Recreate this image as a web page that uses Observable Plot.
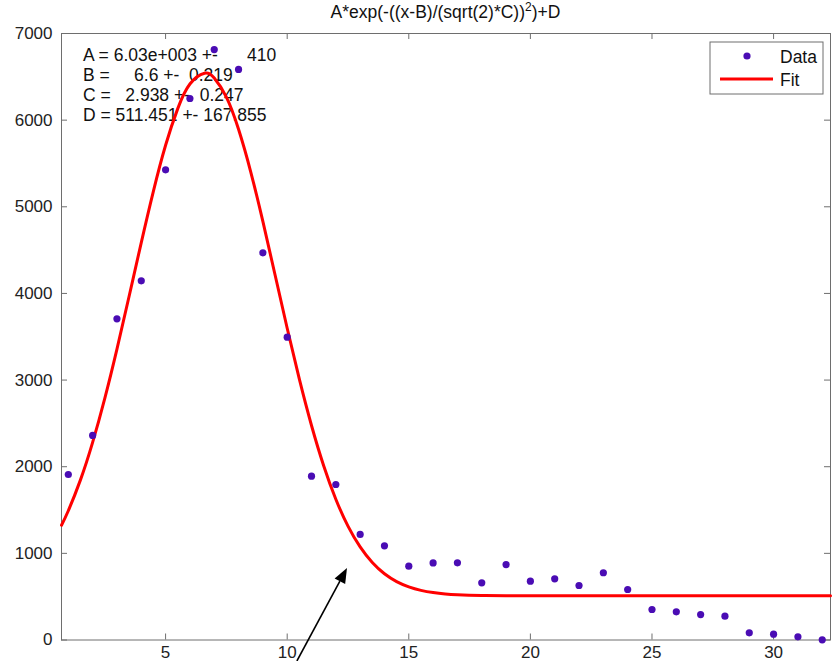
<!DOCTYPE html>
<html><head><meta charset="utf-8">
<script src="https://cdn.jsdelivr.net/npm/d3@7"></script>
<script src="https://cdn.jsdelivr.net/npm/@observablehq/plot@0.6"></script>
<style>
body{margin:0;background:#fff}
svg{display:block}
svg text{white-space:pre}
</style>
</head><body><div id="chart"></div>
<script>
// ---- data ----
const xValues = [1,2,3,4,5,6,7,8,9,10,11,12,13,14,15,16,17,18,19,20,21,22,23,24,25,26,27,28,29,30,31,32];
const yValues = [1910,2361,3707,4146,5427,6250,6815,6585,4469,3495,1891,1795,1218,1087,852,889,891,660,871,679,706,629,776,583,352,325,294,275,83,67,37,2];
const fitX = [0.72,1,1.5,2,2.5,3,3.5,4,4.5,5,5.5,6,6.6,7,7.5,8,8.5,9,9.5,10,10.5,11,11.5,12,12.5,13,13.5,14,14.5,15,15.5,16,16.5,17,18,19,20,25,32.34];
const fitY = [1325,1492,1848,2281,2789,3358,3967,4587,5182,5710,6133,6417,6541,6486,6265,5894,5404,4831,4216,3598,3010,2476,2012,1625,1314,1074,894,764,674,613,573,548,532,523,515,512,511.5,511.5,511.5];
const xTicks = [5,10,15,20,25,30];
const yTicks = [0,1000,2000,3000,4000,5000,6000,7000];
const xDomain = [0.72, 32.34];
const yDomain = [0, 7000];
const titleMain = "A*exp(-((x-B)/(sqrt(2)*C))";
const titleSup = "2";
const titleEnd = ")+D";
const fitLines = ["A = 6.03e+003 +-      410", "B =     6.6 +-  0.219", "C =   2.938 +-  0.247", "D = 511.451 +- 167.855"];
const legendLabels = ["Data", "Fit"];
const arrowFrom = [10.42, -248];
const arrowTo = [12.48, 825];

// ---- layout ----
const W = 834, H = 661, mL = 61, mR = 4, mT = 33, mB = 21.5;
const frameW = W - mL - mR, frameH = H - mT - mB;
const axisColor = "#6e6e6e";
const dotColor = "#4a0cb4";
const font = "'Liberation Sans', Arial, sans-serif";

const data = xValues.map((x, i) => ({x, y: yValues[i]}));
const fit = fitX.map((x, i) => ({x, y: fitY[i]}));

const plot = Plot.plot({
  width: W, height: H,
  marginLeft: mL, marginRight: mR, marginTop: mT, marginBottom: mB,
  style: {fontFamily: font, fontSize: "17px", color: "#222", background: "#fff", overflow: "visible"},
  x: {domain: xDomain, ticks: xTicks, tickSize: 0, tickPadding: 5.5, label: null, tickFormat: d => String(d)},
  y: {domain: yDomain, ticks: yTicks, tickSize: 0, tickPadding: 9, label: null, tickFormat: d => String(d)},
  marks: [
    Plot.frame({stroke: axisColor}),
    Plot.tickX(xTicks, {x: d => d, insetTop: frameH - 6, stroke: axisColor}),
    Plot.tickX(xTicks, {x: d => d, insetBottom: frameH - 6, stroke: axisColor}),
    Plot.tickY(yTicks, {y: d => d, insetRight: frameW - 6, stroke: axisColor}),
    Plot.tickY(yTicks, {y: d => d, insetLeft: frameW - 6, stroke: axisColor}),
    Plot.text([fitLines.join("\n")], {frameAnchor: "top-left", dx: 21.5, dy: 13.7, lineAnchor: "top", textAnchor: "start", lineHeight: 1.13, fontSize: 17.5, fill: "#111"}),
    Plot.line(fit, {x: "x", y: "y", stroke: "#ff0000", strokeWidth: 3, curve: "natural"}),
    Plot.dot(data, {x: "x", y: "y", r: 3.6, fill: dotColor, stroke: "none"})
  ]
});

document.getElementById("chart").appendChild(plot);

const svg = d3.select(plot);
const sx = plot.scale("x"), sy = plot.scale("y");
const px = v => sx.apply ? sx.apply(v) : mL + (v - xDomain[0]) / (xDomain[1] - xDomain[0]) * frameW;
const py = v => sy.apply ? sy.apply(v) : mT + frameH - (v - yDomain[0]) / (yDomain[1] - yDomain[0]) * frameH;

// title
const title = svg.append("text")
  .attr("x", mL + frameW / 2).attr("y", 18)
  .attr("text-anchor", "middle")
  .attr("font-family", font).attr("font-size", 17.5).attr("fill", "#111");
title.append("tspan").text(titleMain);
title.append("tspan").attr("font-size", 12).attr("dy", -7).text(titleSup);
title.append("tspan").attr("dy", 7).text(titleEnd);

// legend
const lg = svg.append("g").attr("font-family", font).attr("font-size", 17.5).attr("fill", "#111").attr("text-anchor", "start");
lg.append("rect").attr("x", 710).attr("y", 42).attr("width", 113).attr("height", 52)
  .attr("fill", "#fff").attr("stroke", axisColor);
lg.append("circle").attr("cx", 747).attr("cy", 56).attr("r", 3.6).attr("fill", dotColor);
lg.append("line").attr("x1", 720).attr("x2", 773).attr("y1", 79).attr("y2", 79)
  .attr("stroke", "#ff0000").attr("stroke-width", 3);
lg.append("text").attr("x", 780).attr("y", 63).attr("text-anchor", "start").text(legendLabels[0]);
lg.append("text").attr("x", 780).attr("y", 86).attr("text-anchor", "start").text(legendLabels[1]);

// arrow annotation
const x1 = px(arrowFrom[0]), y1 = py(arrowFrom[1]), x2 = px(arrowTo[0]), y2 = py(arrowTo[1]);
const ang = Math.atan2(y2 - y1, x2 - x1), hl = 15, hw = 6;
const bx = x2 - hl * Math.cos(ang), by = y2 - hl * Math.sin(ang);
svg.append("line").attr("x1", x1).attr("y1", y1).attr("x2", bx).attr("y2", by)
  .attr("stroke", "#000").attr("stroke-width", 1.6);
svg.append("polygon").attr("fill", "#000").attr("points", [
  [x2, y2],
  [bx + hw * Math.sin(ang), by - hw * Math.cos(ang)],
  [bx - hw * Math.sin(ang), by + hw * Math.cos(ang)]
].map(p => p.join(",")).join(" "));
</script>
</body></html>
